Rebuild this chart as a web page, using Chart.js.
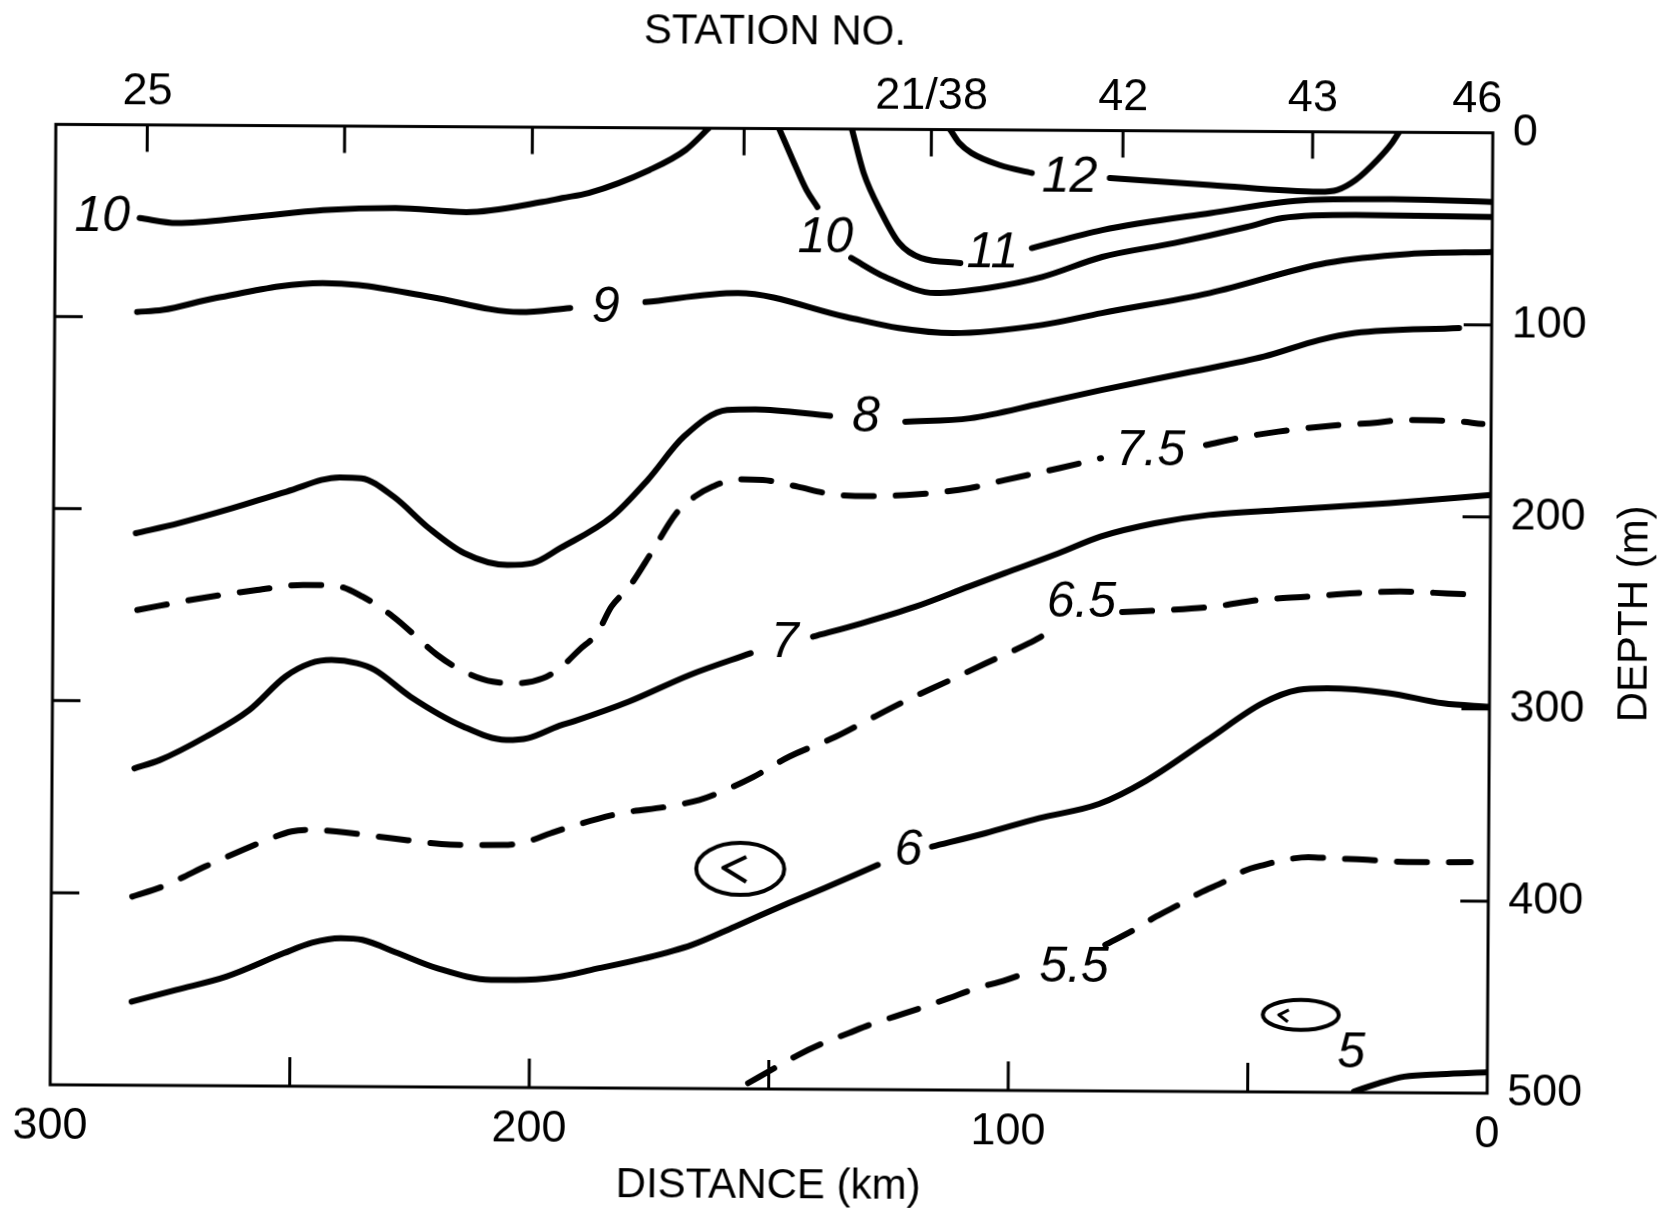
<!DOCTYPE html>
<html>
<head>
<meta charset="utf-8">
<script src="https://cdn.jsdelivr.net/npm/chart.js@4.4.0/dist/chart.umd.min.js"></script>
<style>
  html, body { margin: 0; padding: 0; background: #fff; }
  #wrap { width: 1666px; height: 1214px; overflow: hidden; background: #fff; }
  /* the scanned figure sits a little skewed on the page */
  canvas { display: block; transform: rotate(0.338deg); transform-origin: 771px 609px; }
</style>
</head>
<body>
<div id="wrap"><canvas id="section" width="1666" height="1214"></canvas></div>
<script>
// isotherms, [distance km, depth m]; null = break for the contour label
const c12 = [[113.3,0],[111.4,6.9],[108.8,12.1],[102.9,18.3],[96.2,22.3], null,
  [79.9,24.7],[58.8,28.0],[36.1,31.2],[32.4,30.2],[28.6,25.0],[24.1,14.5],[21.1,5.8],[19.6,0]];
const c11 = [[133.8,0],[131.3,22.8],[127.5,43.6],[123.8,59.2],[119.2,66.9],[111.0,69.4], null,
  [96.1,61.4],[81.4,51.8],[58.8,42.6],[38.3,35.5],[21.0,34.8],[0,36.0]];
const c10a = [[282.4,48.5],[274.6,51.0],[258.9,47.6],[244.1,43.8],[229.0,42.5],[214.2,44.4],
  [198.3,38.9],[194.2,36.8],[188.7,34.1],[176.0,21.9],[168.5,11.4],[163.7,0]];
const c10b = [[149.0,0],[146.1,16.3],[143.2,31.9],[140.9,40.7], null,
  [133.8,67.1],[126.7,76.9],[116.2,85.1],[105.2,82.3],[93.9,76.4],[81.4,65.8],[66.3,58.3],
  [51.3,49.8],[43.8,45.0],[28.5,43.2],[0,43.8]];
const c9 = [[282.8,97.4],[277.5,96.3],[266.4,89.9],[244.1,81.8],[236.6,82.7],[221.5,88.7],
  [202.9,96.3],[192.4,94.0], null,
  [176.7,90.7],[157.4,85.7],[134.8,97.8],[123.8,103.4],[112.5,105.9],[93.9,101.4],[81.4,95.0],
  [58.8,84.2],[34.6,68.3],[17.3,63.3],[0,62.0]];
const c8 = [[282.8,212.6],[273.8,207.2],[262.7,199.3],[251.4,190.5],[240.3,182.9],[235.8,183.3],
  [229.0,192.8],[221.6,209.1],[214.2,222.0],[205.2,228.0],[200.0,227.0],[194.2,219.1],
  [183.4,202.5],[176.0,183.3],[168.5,160.6],[159.5,146.6],[153.6,146.2],[138.0,149.4], null,
  [122.3,152.2],[108.8,150.2],[93.9,142.2],[81.4,135.1],[62.6,125.3],[47.5,117.2],[36.0,108.4],
  [28.5,104.6],[6.8,101.7]];
const c75 = [[282.4,252.6],[269.3,246.3],[257.4,241.8],[247.8,239.0],[241.3,239.3],[235.4,244.9],
  [229.0,255.2],[219.7,275.1],[214.8,282.8],[208.1,288.8],[202.9,289.5],[197.6,286.8],
  [194.1,281.6],[190.1,272.0],[186.4,263.3],[183.4,249.3],[179.7,238.9],[175.2,221.4],
  [170.0,200.6],[166.2,191.9],[162.5,186.6],[157.3,182.7],[152.0,183.0],[144.6,186.4],
  [138.6,189.7],[132.7,191.0],[127.4,190.9],[120.0,190.0],[108.8,186.6],[101.4,182.2],
  [90.1,175.9],[81.4,170.6], null,
  [59.5,163.4],[51.2,158.9],[44.4,156.2],[34.0,153.1],[23.7,151.2],[18.7,149.8],[8.3,150.1],[1.8,151.6]];
const c7 = [[282.8,335.0],[277.5,330.6],[267.9,318.3],[258.9,304.3],[251.4,286.8],[246.2,279.8],
  [241.8,278.0],[236.5,279.6],[232.8,283.0],[225.3,296.8],[214.2,312.3],[205.2,319.1],
  [200.7,318.1],[194.2,311.6],[190.9,309.0],[179.7,298.8],[167.0,284.7],[154.3,273.2], null,
  [141.3,264.4],[131.2,257.3],[120.0,248.5],[108.8,237.8],[101.4,230.8],[90.1,220.2],[81.4,211.4],
  [70.1,204.3],[58.8,199.8],[43.7,197.0],[21.1,193.1],[0,188.5]];
const c65 = [[283.1,401.8],[276.8,396.5],[272.3,391.3],[267.9,385.9],[259.7,376.8],[255.1,371.9],
  [249.9,367.4],[246.2,366.5],[240.6,367.3],[229.0,370.6],[218.6,373.5],[212.7,373.9],
  [205.6,373.8],[200.7,371.9],[195.8,367.5],[191.6,364.0],[181.2,356.9],[171.5,353.3],
  [164.8,349.7],[161.0,346.2],[153.6,337.6],[146.1,326.9],[136.5,316.5],[129.7,307.6],
  [121.5,297.0],[113.3,287.4],[105.2,277.7],[96.2,267.1],[92.4,261.9], null,
  [76.8,250.6],[67.0,249.4],[57.6,247.5],[48.2,243.9],[38.0,242.0],[28.2,240.1],[18.8,239.1],
  [9.0,239.9],[2.6,240.6]];
const c6 = [[283.1,456.5],[273.8,450.2],[263.4,443.2],[251.4,430.8],[245.5,425.2],[239.5,422.8],
  [235.0,423.6],[227.6,430.4],[219.4,438.1],[208.1,444.0],[202.9,444.0],[194.2,442.3],
  [187.1,438.5],[176.0,432.3],[166.2,425.2],[157.3,415.6],[146.1,403.2],[138.7,395.3],[127.5,383.0], null,
  [116.2,373.3],[105.1,366.2],[93.9,358.2],[81.4,350.6],[71.6,338.4],[58.8,316.9],[47.4,297.7],
  [39.9,290.6],[33.9,289.7],[21.1,292.0],[9.7,297.1],[0,298.8]];
const c55 = [[154.3,497.0],[147.6,487.4],[143.9,482.2],[138.7,476.0],[133.4,470.7],[129.0,466.3],
  [123.8,461.9],[118.5,457.5],[112.5,452.2],[107.3,447.4],[100.6,442.5],[94.7,437.2], null,
  [79.9,423.9],[73.9,416.0],[69.3,409.0],[64.0,402.0],[60.3,396.7],[55.0,390.5],[51.2,385.2],
  [46.7,381.7],[42.2,379.0],[37.6,377.6],[32.4,378.3],[26.3,378.7],[21.1,379.5],[15.1,379.9],
  [10.5,379.9],[3.7,379.8]];
const c5 = [[27.8,499.5],[22.6,495.1],[17.3,491.6],[9.7,490.2],[0,489.1]];

const solidLines = [c12, c11, c10a, c10b, c9, c8, c7, c6, c5];
const dashedLines = [c75, c65, c55];

// contour labels
const labelText  = ['10', '9', '10', '11', '12', '8', '7.5', '7', '6.5', '6', '5.5', '5'];
const labelDist  = [290.2, 185.0, 139.2, 104.3, 88.3, 130.5, 71.1, 147.2, 85.3, 121.1, 86.4, 28.4];
const labelDepth = [48.2, 93.9, 56.8, 64.1, 24.8, 150.4, 166.7, 268.0, 246.0, 375.6, 435.8, 480.0];

// circled "<" marks
const markDist  = [156.2, 39.0];
const markDepth = [385.5, 459.8];

// stations along the top
const stationDist  = [280.9, 239.7, 200.5, 156.3, 117.2, 77.2, 37.6, 0];
const stationLabel = ['25', '', '', '', '21/38', '42', '43', '46'];

const FONT = '"Liberation Sans", Arial, sans-serif';

function toPoints(arr) {
  return arr.map(p => p ? { x: p[0], y: p[1] } : { x: NaN, y: NaN });
}

const lineStyle = {
  showLine: true, pointRadius: 0, borderColor: '#000', borderWidth: 6,
  cubicInterpolationMode: 'monotone', borderCapStyle: 'round', borderJoinStyle: 'round', spanGaps: false
};
const datasets = [];
solidLines.forEach(c => datasets.push({ ...lineStyle, data: toPoints(c) }));
dashedLines.forEach(c => datasets.push({ ...lineStyle, data: toPoints(c), borderDash: [30, 22] }));

const decor = {
  id: 'decor',
  beforeDatasetsDraw(chart) {
    const { ctx, chartArea: a, scales } = chart;
    ctx.save();
    ctx.strokeStyle = '#000';
    ctx.lineWidth = 3;
    ctx.strokeRect(a.left, a.top, a.right - a.left, a.bottom - a.top);
    ctx.beginPath();
    scales.x.ticks.forEach(t => {
      if (t.value > 0 && t.value < 300) {
        const px = scales.x.getPixelForValue(t.value);
        ctx.moveTo(px, a.bottom); ctx.lineTo(px, a.bottom - 29);
      }
    });
    scales.x2.ticks.forEach(t => {
      if (t.value > 0 && t.value < 300) {
        const px = scales.x2.getPixelForValue(t.value);
        ctx.moveTo(px, a.top); ctx.lineTo(px, a.top + 27);
      }
    });
    scales.y.ticks.forEach(t => {
      if (t.value > 0 && t.value < 500) {
        const py = scales.y.getPixelForValue(t.value);
        ctx.moveTo(a.left, py); ctx.lineTo(a.left + 28, py);
        ctx.moveTo(a.right, py); ctx.lineTo(a.right - 28, py);
      }
    });
    ctx.stroke();
    ctx.restore();
  },
  afterDatasetsDraw(chart) {
    const { ctx, chartArea: a, scales: { x, y } } = chart;
    ctx.save();
    ctx.fillStyle = '#000';
    ctx.font = 'italic 50px ' + FONT;
    ctx.textAlign = 'center';
    ctx.textBaseline = 'middle';
    labelText.forEach((t, i) => {
      ctx.fillText(t, x.getPixelForValue(labelDist[i]), y.getPixelForValue(labelDepth[i]));
    });

    ctx.strokeStyle = '#000';
    ctx.lineWidth = 4;
    ctx.lineJoin = 'round';
    // big circled mark
    let cx = x.getPixelForValue(markDist[0]), cy = y.getPixelForValue(markDepth[0]);
    ctx.beginPath(); ctx.ellipse(cx, cy, 44, 26, 0, 0, Math.PI * 2); ctx.stroke();
    ctx.beginPath(); ctx.moveTo(cx + 6, cy - 12); ctx.lineTo(cx - 17, cy - 1); ctx.lineTo(cx + 6, cy + 13); ctx.stroke();
    // small one
    cx = x.getPixelForValue(markDist[1]); cy = y.getPixelForValue(markDepth[1]);
    ctx.beginPath(); ctx.ellipse(cx, cy, 38, 15, 0, 0, Math.PI * 2); ctx.stroke();
    ctx.lineWidth = 3;
    ctx.beginPath(); ctx.moveTo(cx - 12, cy - 5); ctx.lineTo(cx - 22, cy); ctx.lineTo(cx - 13, cy + 7); ctx.stroke();

    // right axis title reads upward
    ctx.font = '42px ' + FONT;
    ctx.translate(a.right + 145, (a.top + a.bottom) / 2);
    ctx.rotate(-Math.PI / 2);
    ctx.fillText('DEPTH (m)', 0, 0);
    ctx.restore();
  }
};

const tickFont = { family: FONT, size: 45 };
const titleFont = { family: FONT, size: 42 };

new Chart(document.getElementById('section').getContext('2d'), {
  type: 'scatter',
  data: { datasets },
  options: {
    responsive: false,
    animation: false,
    layout: { padding: { left: 53, top: 0, right: 0, bottom: 0 } },
    plugins: { legend: { display: false }, tooltip: { enabled: false } },
    scales: {
      x: {
        type: 'linear', position: 'bottom', reverse: true, min: 0, max: 300,
        grid: { display: false, drawTicks: false }, border: { display: false },
        ticks: {
          stepSize: 50, autoSkip: false, maxRotation: 0, padding: 15, color: '#000', font: tickFont,
          callback: v => (v % 100 === 0 ? String(v) : '')
        },
        title: { display: true, text: 'DISTANCE (km)', color: '#000', font: titleFont, padding: { top: 0, bottom: 2 } },
        afterFit: s => { s.height = 125; }
      },
      x2: {
        type: 'linear', position: 'top', reverse: true, min: 0, max: 300,
        grid: { display: false, drawTicks: false }, border: { display: false },
        afterBuildTicks: s => { s.ticks = stationDist.map(v => ({ value: v })); },
        ticks: {
          autoSkip: false, maxRotation: 0, padding: 6, color: '#000', font: tickFont,
          // the corner station is lettered a little inside the frame
          callback: (v, i) => (v === 0 ? stationLabel[i] + '\u2002\u2009' : stationLabel[i])
        },
        title: { display: true, text: 'STATION NO.', color: '#000', font: titleFont, padding: { top: 7, bottom: 0 } },
        afterFit: s => { s.height = 128.6; }
      },
      y: {
        type: 'linear', position: 'right', reverse: true, min: 0, max: 500,
        grid: { display: false, drawTicks: false }, border: { display: false },
        ticks: { stepSize: 100, padding: 20, color: '#000', font: tickFont },
        afterFit: s => { s.width = 176; }
      }
    }
  },
  plugins: [decor]
});
</script>
</body>
</html>
